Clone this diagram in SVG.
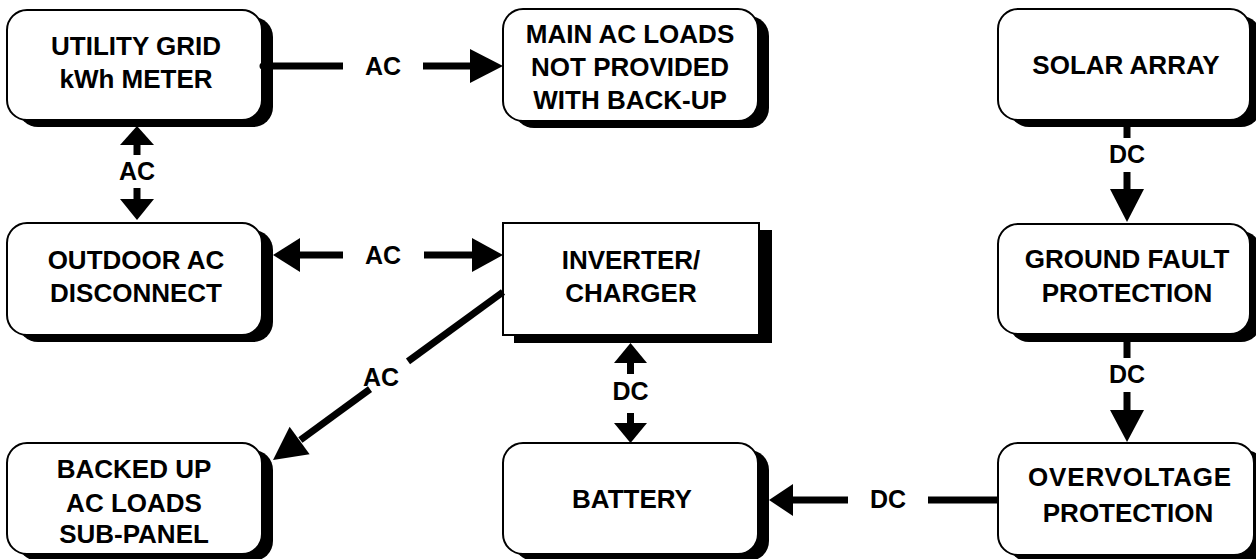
<svg xmlns="http://www.w3.org/2000/svg" width="1256" height="559" viewBox="0 0 1256 559">
<style>
.box{fill:#fff;stroke:#000;stroke-width:2}
.sh{fill:#000}
.t{font-family:"Liberation Sans",Arial,sans-serif;font-weight:bold;font-size:26px;text-anchor:middle;fill:#000}
.l{font-family:"Liberation Sans",Arial,sans-serif;font-weight:bold;font-size:25px;text-anchor:middle;fill:#000}
.ln{stroke:#000;stroke-width:7;fill:none}
.ah{fill:#000}
</style>
<rect width="1256" height="559" fill="#fff"/>
<g id="utility">
<rect class="sh" x="18" y="17" width="255" height="110" rx="20"/>
<rect class="box" x="7" y="10" width="255" height="110" rx="20"/>
<text class="t" x="136" y="55">UTILITY GRID</text>
<text class="t" x="136" y="88">kWh METER</text>
</g>
<g id="mainloads">
<rect class="sh" x="514" y="16" width="255" height="112" rx="20"/>
<rect class="box" x="503" y="9" width="255" height="112" rx="20"/>
<text class="t" x="630" y="43">MAIN AC LOADS</text>
<text class="t" x="630" y="76">NOT PROVIDED</text>
<text class="t" x="630" y="109">WITH BACK-UP</text>
</g>
<g id="solar">
<rect class="sh" x="1009" y="16" width="252" height="111" rx="20"/>
<rect class="box" x="998" y="9" width="252" height="111" rx="20"/>
<text class="t" x="1126" y="74">SOLAR ARRAY</text>
</g>
<g id="outdoor">
<rect class="sh" x="18" y="230" width="255" height="112" rx="20"/>
<rect class="box" x="7" y="223" width="255" height="112" rx="20"/>
<text class="t" x="136" y="269">OUTDOOR AC</text>
<text class="t" x="136" y="302">DISCONNECT</text>
</g>
<g id="inverter">
<rect class="sh" x="514" y="230" width="258" height="113"/>
<rect class="box" x="503" y="223" width="256" height="112"/>
<text class="t" x="631" y="269">INVERTER/</text>
<text class="t" x="631" y="302">CHARGER</text>
</g>
<g id="groundfault">
<rect class="sh" x="1009" y="231" width="252" height="111" rx="20"/>
<rect class="box" x="998" y="224" width="252" height="110" rx="20"/>
<text class="t" x="1127" y="268">GROUND FAULT</text>
<text class="t" x="1127" y="302">PROTECTION</text>
</g>
<g id="backedup">
<rect class="sh" x="18" y="450" width="255" height="111" rx="20"/>
<rect class="box" x="7" y="443" width="255" height="111" rx="20"/>
<text class="t" x="134" y="478">BACKED UP</text>
<text class="t" x="134" y="512">AC LOADS</text>
<text class="t" x="134" y="543">SUB-PANEL</text>
</g>
<g id="battery">
<rect class="sh" x="514" y="450" width="255" height="111" rx="20"/>
<rect class="box" x="503" y="443" width="255" height="111" rx="20"/>
<text class="t" x="632" y="508">BATTERY</text>
</g>
<g id="overvoltage">
<rect class="sh" x="1009" y="450" width="256" height="112" rx="20"/>
<rect class="box" x="998" y="443" width="256" height="112" rx="20"/>
<text class="t" x="1130" y="486" letter-spacing="0.8">OVERVOLTAGE</text>
<text class="t" x="1128" y="522">PROTECTION</text>
</g>
<g id="connectors">
<!-- utility -> main loads -->
<circle cx="263" cy="66" r="3.5" fill="#000"/>
<line class="ln" x1="262" y1="66" x2="343" y2="66"/>
<text class="l" x="383" y="75">AC</text>
<line class="ln" x1="423" y1="66" x2="472" y2="66"/>
<polygon class="ah" points="470,49 503,66 470,83"/>
<!-- utility <-> outdoor -->
<polygon class="ah" points="137,126 154,145 120,145"/>
<line class="ln" x1="137" y1="144" x2="137" y2="155"/>
<text class="l" x="137" y="180">AC</text>
<line class="ln" x1="137" y1="188" x2="137" y2="200"/>
<polygon class="ah" points="120,199 154,199 137,220"/>
<!-- outdoor <-> inverter -->
<polygon class="ah" points="273,255 300,238 300,272"/>
<line class="ln" x1="299" y1="255" x2="343" y2="255"/>
<text class="l" x="383" y="264">AC</text>
<line class="ln" x1="424" y1="255" x2="473" y2="255"/>
<polygon class="ah" points="472,238 503,255 472,272"/>
<!-- inverter -> backed up -->
<line class="ln" x1="503" y1="292" x2="408" y2="361.4"/>
<text class="l" x="381" y="386">AC</text>
<line class="ln" x1="370" y1="389.2" x2="300.4" y2="440"/>
<polygon class="ah" points="273,460 289.6,426.8 309.6,454.2"/>
<!-- inverter <-> battery -->
<polygon class="ah" points="630.5,343 647,363 614,363"/>
<line class="ln" x1="630.5" y1="362" x2="630.5" y2="374"/>
<text class="l" x="630.5" y="400">DC</text>
<line class="ln" x1="630.5" y1="413" x2="630.5" y2="424"/>
<polygon class="ah" points="614,423 647,423 630.5,443"/>
<!-- solar -> ground fault -->
<line class="ln" x1="1127" y1="126" x2="1127" y2="138"/>
<text class="l" x="1127" y="163">DC</text>
<line class="ln" x1="1127" y1="172" x2="1127" y2="190"/>
<polygon class="ah" points="1110,189 1144,189 1127,222"/>
<!-- ground fault -> overvoltage -->
<line class="ln" x1="1127" y1="342" x2="1127" y2="358"/>
<text class="l" x="1127" y="383">DC</text>
<line class="ln" x1="1127" y1="392" x2="1127" y2="411"/>
<polygon class="ah" points="1110,410 1144,410 1127,442"/>
<!-- overvoltage -> battery -->
<line class="ln" x1="998" y1="500" x2="928" y2="500"/>
<text class="l" x="888" y="508">DC</text>
<line class="ln" x1="848" y1="500" x2="792" y2="500"/>
<polygon class="ah" points="769,500 793,484 793,516"/>
</g>
</svg>
